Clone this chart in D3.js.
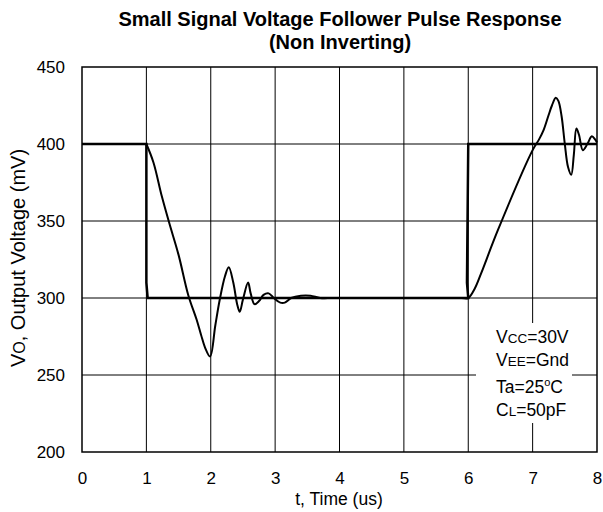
<!DOCTYPE html>
<html><head><meta charset="utf-8">
<script src="https://cdn.jsdelivr.net/npm/d3@7"></script>
<style>body{margin:0;background:#fff}svg{display:block}text{font-family:"Liberation Sans",Arial,sans-serif;fill:#000}</style>
</head><body><svg id="c" width="603" height="512"></svg>
<script>
const xTicks = [0,1,2,3,4,5,6,7,8];
const yTicks = [200,250,300,350,400,450];
const inputT = [0, 1.0, 1.0, 1.02, 6.0, 5.98, 6.0, 8.0];
const inputV = [400, 400, 310, 300, 300, 310, 400, 400];
const outT = [1.0,1.11,1.24,1.36,1.5,1.65,1.78,1.85,1.91,1.99,2.07,2.14,2.22,2.28,2.35,2.41,2.45,2.5,2.58,2.62,2.68,2.75,2.82,2.9,2.98,3.08,3.15,3.25,3.4,3.55,3.7,3.9,4.5,5.0,5.5,5.9,6.0,6.1,6.2,6.46,7.0,7.1,7.17,7.25,7.3,7.36,7.4,7.45,7.5,7.55,7.6,7.64,7.68,7.72,7.78,7.85,7.92,7.97,8.0];
const outV = [400,388,366,348,328,302,286,276,268,262,282,299,314,320,310,296,291,299,310,303,296,298,302,303,300,297,297,300,301.5,301.5,300,300,300,300,300,300,300,306,316,344,396,403,409,419,425,430,428,418,400,385,380,393,410,406,396,400,405,403,401];
const legendLines = [["V","CC","=30V"],["V","EE","=Gnd"],["Ta=25","o","C"],["C","L","=50pF"]];
const legendY = [343,366,393,416];

const svg = d3.select("#c");
const L=82,R=597,T=67,B=452;
const x = d3.scaleLinear().domain([0,8]).range([L,R]);
const y = d3.scaleLinear().domain([200,450]).range([B,T]);

// grid
svg.append("g").selectAll("line").data(xTicks.slice(1,-1)).join("line")
  .attr("x1",d=>x(d)).attr("x2",d=>x(d)).attr("y1",T).attr("y2",B).attr("stroke","#000").attr("stroke-width",1);
svg.append("g").selectAll("line").data(yTicks.slice(1,-1)).join("line")
  .attr("y1",d=>y(d)).attr("y2",d=>y(d)).attr("x1",L).attr("x2",R).attr("stroke","#000").attr("stroke-width",1);

// legend box (white, hides grid)
svg.append("rect").attr("x",476).attr("y",323).attr("width",96).attr("height",100).attr("fill","#fff");
const lg = svg.append("g");
legendLines.forEach((l,i)=>{
  const t = lg.append("text").attr("x",496).attr("y",legendY[i]).attr("font-size",17.5);
  if(i===2){
    t.append("tspan").text(l[0]);
    t.append("tspan").attr("font-size",11).attr("dy",-7).text(l[1]);
    t.append("tspan").attr("dy",7).text(l[2]);
  } else {
    t.append("tspan").text(l[0]);
    t.append("tspan").attr("font-size",13.5).text(l[1]);
    t.append("tspan").text(l[2]);
  }
});

// curves
const line = d3.line().x(d=>x(d[0])).y(d=>y(d[1]));
svg.append("path").datum(inputT.map((t,i)=>[t,inputV[i]])).attr("d",line)
  .attr("fill","none").attr("stroke","#000").attr("stroke-width",2.5);
svg.append("path").datum(outT.map((t,i)=>[t,outV[i]])).attr("d",line.curve(d3.curveCatmullRom.alpha(0.5)))
  .attr("fill","none").attr("stroke","#000").attr("stroke-width",2);

// frame
svg.append("rect").attr("x",L).attr("y",T).attr("width",R-L).attr("height",B-T)
  .attr("fill","none").attr("stroke","#000").attr("stroke-width",1.5);

// axes labels
const xa = svg.append("g").attr("transform",`translate(0,${B})`)
  .call(d3.axisBottom(x).tickValues(xTicks).tickSize(0).tickPadding(20).tickFormat(d3.format("d")));
xa.select(".domain").remove();
xa.selectAll("text").attr("font-size",17).attr("font-family","Liberation Sans, Arial, sans-serif");
const ya = svg.append("g").attr("transform",`translate(${L},0)`)
  .call(d3.axisLeft(y).tickValues(yTicks).tickSize(0).tickPadding(17).tickFormat(d3.format("d")));
ya.select(".domain").remove();
ya.selectAll("text").attr("font-size",17).attr("font-family","Liberation Sans, Arial, sans-serif");

// titles
svg.append("text").attr("x",340).attr("y",26).attr("text-anchor","middle").attr("font-size",20).attr("font-weight","bold").text("Small Signal Voltage Follower Pulse Response");
svg.append("text").attr("x",340).attr("y",49).attr("text-anchor","middle").attr("font-size",20).attr("font-weight","bold").text("(Non Inverting)");
svg.append("text").attr("x",339).attr("y",505).attr("text-anchor","middle").attr("font-size",17.5).text("t, Time (us)");
const yt = svg.append("text").attr("transform","translate(25,258) rotate(-90)").attr("text-anchor","middle").attr("font-size",20);
yt.append("tspan").text("V");
yt.append("tspan").attr("font-size",16).text("O");
yt.append("tspan").text(", Output Voltage (mV)");
</script></body></html>
